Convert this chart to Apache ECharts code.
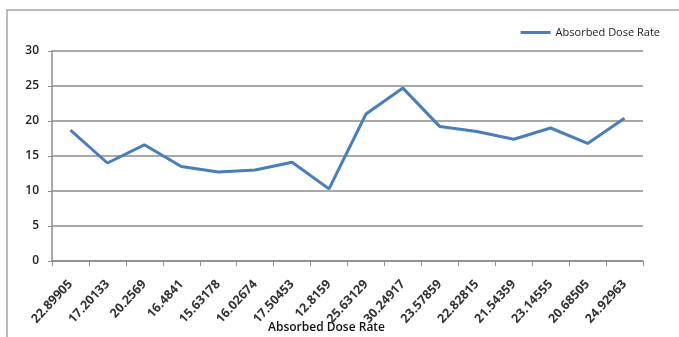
<!DOCTYPE html>
<html>
<head>
<meta charset="utf-8">
<script src="https://cdn.jsdelivr.net/npm/echarts@6/dist/echarts.min.js"></script>
<style>
  html, body { margin: 0; padding: 0; background: #fff; }
  #chart { width: 679px; height: 337px; }
</style>
</head>
<body>
<div id="chart"></div>
<script>
// Category labels along the x axis
const categories = [
  '22.89905', '17.20133', '20.2569', '16.4841', '15.63178', '16.02674',
  '17.50453', '12.8159', '25.63129', '30.24917', '23.57859', '22.82815',
  '21.54359', '23.14555', '20.68505', '24.92963'
];
// Absorbed dose rate series
const doseRate = [18.7, 14.0, 16.6, 13.5, 12.7, 13.0, 14.1, 10.3, 21.0, 24.7, 19.2, 18.5, 17.4, 19.0, 16.8, 20.4];
// Y axis range
const yTicks = { min: 0, max: 30, step: 5 };

const chart = echarts.init(document.getElementById('chart'), null, { renderer: 'canvas' });
const font = 'Open Sans, Liberation Sans, sans-serif';

chart.setOption({
  animation: false,
  backgroundColor: '#fff',
  graphic: [{
    type: 'rect',
    shape: { x: 7, y: 10, width: 700, height: 360 },
    style: { fill: 'none', stroke: '#a6a6a6', lineWidth: 1.5 },
    silent: true
  }],
  legend: {
    right: 14,
    top: 22,
    itemWidth: 30,
    itemHeight: 3,
    itemGap: 4,
    icon: 'rect',
    textStyle: { fontFamily: font, fontSize: 11, color: '#222' },
    data: ['Absorbed Dose Rate']
  },
  grid: { left: 52, right: 36, top: 51, bottom: 76, containLabel: false, outerBoundsMode: 'none' },
  xAxis: {
    type: 'category',
    data: categories,
    boundaryGap: true,
    name: 'Absorbed Dose Rate',
    nameLocation: 'middle',
    nameGap: 61,
    nameMoveOverlap: false,
    nameTextStyle: { fontFamily: font, fontSize: 12, fontWeight: 600, color: '#111', padding: [0, 42, 0, 0] },
    axisLine: { lineStyle: { color: '#8c8c8c', width: 1.5 } },
    axisTick: { show: true, length: 5, lineStyle: { color: '#8c8c8c' } },
    axisLabel: {
      rotate: 47,
      interval: 0,
      margin: 21,
      fontFamily: font,
      fontSize: 12.5,
      fontWeight: 'bold',
      color: '#333'
    }
  },
  yAxis: {
    type: 'value',
    min: yTicks.min,
    max: yTicks.max,
    interval: yTicks.step,
    axisLine: { show: true, lineStyle: { color: '#8c8c8c', width: 1.5 } },
    axisTick: { show: true, length: 4, lineStyle: { color: '#8c8c8c' } },
    axisLabel: { fontFamily: font, fontSize: 12, fontWeight: 600, color: '#222', margin: 13 },
    splitLine: { lineStyle: { color: '#8c8c8c', width: 1.5 } }
  },
  series: [{
    name: 'Absorbed Dose Rate',
    type: 'line',
    data: doseRate,
    symbol: 'none',
    lineStyle: { color: '#4a7ebb', width: 3 },
    itemStyle: { color: '#4a7ebb' }
  }]
});
</script>
</body>
</html>
